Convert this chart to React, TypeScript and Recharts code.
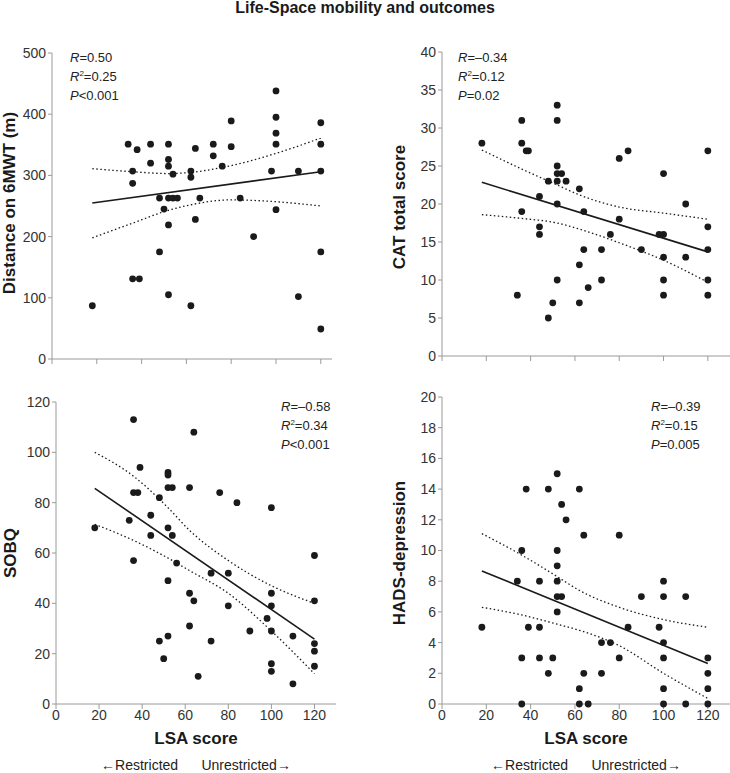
import React from "react";
import { ComposedChart, Scatter, Line, XAxis, YAxis } from "recharts";

type Pt = { x: number; y: number };

const lsaTicks = [0, 20, 40, 60, 80, 100, 120];

// Distance on 6MWT (m)
const walkPoints: Pt[] = [
  { x: 18, y: 87 }, { x: 34, y: 351 }, { x: 36, y: 307 }, { x: 36, y: 287 }, { x: 38, y: 342 },
  { x: 36, y: 131 }, { x: 39, y: 131 }, { x: 44, y: 351 }, { x: 44, y: 320 }, { x: 48, y: 263 },
  { x: 48, y: 175 }, { x: 50, y: 245 }, { x: 52, y: 351 }, { x: 52, y: 326 }, { x: 52, y: 315 },
  { x: 54, y: 302 }, { x: 52, y: 263 }, { x: 54, y: 263 }, { x: 56, y: 263 }, { x: 52, y: 219 },
  { x: 52, y: 105 }, { x: 62, y: 307 }, { x: 62, y: 297 }, { x: 64, y: 344 }, { x: 66, y: 263 },
  { x: 64, y: 228 }, { x: 62, y: 87 }, { x: 72, y: 351 }, { x: 72, y: 332 }, { x: 76, y: 315 },
  { x: 80, y: 389 }, { x: 80, y: 347 }, { x: 84, y: 263 }, { x: 90, y: 200 }, { x: 98, y: 307 },
  { x: 100, y: 438 }, { x: 100, y: 395 }, { x: 100, y: 369 }, { x: 100, y: 351 }, { x: 100, y: 244 },
  { x: 110, y: 307 }, { x: 110, y: 102 }, { x: 120, y: 386 }, { x: 120, y: 351 }, { x: 120, y: 307 },
  { x: 120, y: 175 }, { x: 120, y: 49 },
];
const walkFit: Pt[] = [{ x: 18, y: 255 }, { x: 120, y: 306 }];
const walkUpper: Pt[] = [
  { x: 18, y: 311 }, { x: 36, y: 306 }, { x: 52, y: 303 }, { x: 62, y: 305 },
  { x: 80, y: 316 }, { x: 100, y: 336 }, { x: 120, y: 361 },
];
const walkLower: Pt[] = [
  { x: 18, y: 198 }, { x: 36, y: 222 }, { x: 52, y: 243 }, { x: 62, y: 252 },
  { x: 80, y: 260 }, { x: 100, y: 257 }, { x: 120, y: 250 },
];

// CAT total score
const catPoints: Pt[] = [
  { x: 18, y: 28 }, { x: 36, y: 31 }, { x: 36, y: 28 }, { x: 38, y: 27 }, { x: 39, y: 27 },
  { x: 36, y: 19 }, { x: 34, y: 8 }, { x: 44, y: 21 }, { x: 44, y: 17 }, { x: 44, y: 16 },
  { x: 48, y: 23 }, { x: 48, y: 5 }, { x: 50, y: 7 }, { x: 52, y: 33 }, { x: 52, y: 31 },
  { x: 52, y: 25 }, { x: 52, y: 24 }, { x: 54, y: 24 }, { x: 52, y: 23 }, { x: 56, y: 23 },
  { x: 52, y: 20 }, { x: 52, y: 10 }, { x: 62, y: 22 }, { x: 62, y: 12 }, { x: 62, y: 7 },
  { x: 64, y: 19 }, { x: 64, y: 14 }, { x: 66, y: 9 }, { x: 72, y: 14 }, { x: 72, y: 10 },
  { x: 76, y: 16 }, { x: 80, y: 26 }, { x: 80, y: 18 }, { x: 84, y: 27 }, { x: 90, y: 14 },
  { x: 98, y: 16 }, { x: 100, y: 24 }, { x: 100, y: 16 }, { x: 100, y: 13 }, { x: 100, y: 10 },
  { x: 100, y: 8 }, { x: 110, y: 20 }, { x: 110, y: 13 }, { x: 120, y: 27 }, { x: 120, y: 17 },
  { x: 120, y: 14 }, { x: 120, y: 10 }, { x: 120, y: 8 },
];
const catFit: Pt[] = [{ x: 18, y: 22.85 }, { x: 120, y: 13.7 }];
const catUpper: Pt[] = [
  { x: 18, y: 27.1 }, { x: 36, y: 24.6 }, { x: 52, y: 22.5 }, { x: 62, y: 21.2 },
  { x: 80, y: 19.6 }, { x: 100, y: 18.8 }, { x: 120, y: 18.0 },
];
const catLower: Pt[] = [
  { x: 18, y: 18.6 }, { x: 36, y: 18.1 }, { x: 52, y: 17.5 }, { x: 62, y: 16.7 },
  { x: 80, y: 14.9 }, { x: 100, y: 12.6 }, { x: 120, y: 9.7 },
];

// SOBQ
const sobqPoints: Pt[] = [
  { x: 18, y: 70 }, { x: 34, y: 73 }, { x: 36, y: 113 }, { x: 36, y: 84 }, { x: 38, y: 84 },
  { x: 36, y: 57 }, { x: 39, y: 94 }, { x: 44, y: 75 }, { x: 44, y: 67 }, { x: 48, y: 82 },
  { x: 48, y: 25 }, { x: 50, y: 18 }, { x: 52, y: 92 }, { x: 52, y: 91 }, { x: 52, y: 86 },
  { x: 54, y: 86 }, { x: 52, y: 70 }, { x: 54, y: 67 }, { x: 56, y: 56 }, { x: 52, y: 49 },
  { x: 52, y: 27 }, { x: 62, y: 86 }, { x: 64, y: 108 }, { x: 62, y: 44 }, { x: 64, y: 41 },
  { x: 62, y: 31 }, { x: 66, y: 11 }, { x: 72, y: 52 }, { x: 72, y: 25 }, { x: 76, y: 84 },
  { x: 80, y: 52 }, { x: 80, y: 39 }, { x: 84, y: 80 }, { x: 90, y: 29 }, { x: 98, y: 34 },
  { x: 100, y: 78 }, { x: 100, y: 44 }, { x: 100, y: 39 }, { x: 100, y: 29 }, { x: 100, y: 16 },
  { x: 100, y: 13 }, { x: 110, y: 27 }, { x: 110, y: 8 }, { x: 120, y: 59 }, { x: 120, y: 41 },
  { x: 120, y: 24 }, { x: 120, y: 21 }, { x: 120, y: 15 },
];
const sobqFit: Pt[] = [{ x: 18, y: 85.7 }, { x: 120, y: 25.8 }];
const sobqUpper: Pt[] = [
  { x: 18, y: 100 }, { x: 36, y: 90.5 }, { x: 52, y: 78 }, { x: 62, y: 69 },
  { x: 80, y: 57 }, { x: 100, y: 47 }, { x: 120, y: 40 },
];
const sobqLower: Pt[] = [
  { x: 18, y: 71.4 }, { x: 36, y: 65 }, { x: 52, y: 58 }, { x: 62, y: 53 },
  { x: 80, y: 44 }, { x: 100, y: 29 }, { x: 120, y: 12 },
];

// HADS-depression
const hadsPoints: Pt[] = [
  { x: 18, y: 5 }, { x: 34, y: 8 }, { x: 36, y: 10 }, { x: 38, y: 14 }, { x: 39, y: 5 },
  { x: 44, y: 8 }, { x: 44, y: 5 }, { x: 48, y: 14 }, { x: 52, y: 15 }, { x: 52, y: 10 },
  { x: 52, y: 9 }, { x: 52, y: 8 }, { x: 52, y: 7 }, { x: 54, y: 7 }, { x: 52, y: 6 },
  { x: 54, y: 13 }, { x: 56, y: 12 }, { x: 62, y: 14 }, { x: 64, y: 11 }, { x: 72, y: 4 },
  { x: 76, y: 4 }, { x: 80, y: 11 }, { x: 84, y: 5 }, { x: 90, y: 7 }, { x: 98, y: 5 },
  { x: 100, y: 8 }, { x: 100, y: 7 }, { x: 100, y: 4 }, { x: 110, y: 7 },
  { x: 36, y: 3 }, { x: 44, y: 3 }, { x: 50, y: 3 }, { x: 48, y: 2 }, { x: 36, y: 0 },
  { x: 62, y: 1 }, { x: 62, y: 0 }, { x: 64, y: 2 }, { x: 66, y: 0 }, { x: 72, y: 2 },
  { x: 80, y: 3 }, { x: 100, y: 3 }, { x: 100, y: 1 }, { x: 100, y: 0 }, { x: 110, y: 0 },
  { x: 120, y: 3 }, { x: 120, y: 2 }, { x: 120, y: 1 }, { x: 120, y: 0 },
];
const hadsFit: Pt[] = [{ x: 18, y: 8.67 }, { x: 120, y: 2.64 }];
const hadsUpper: Pt[] = [
  { x: 18, y: 11.1 }, { x: 36, y: 9.7 }, { x: 52, y: 8.3 }, { x: 62, y: 7.4 },
  { x: 80, y: 6.3 }, { x: 100, y: 5.5 }, { x: 120, y: 5.0 },
];
const hadsLower: Pt[] = [
  { x: 18, y: 6.3 }, { x: 36, y: 5.8 }, { x: 52, y: 5.2 }, { x: 62, y: 4.8 },
  { x: 80, y: 3.8 }, { x: 100, y: 2.0 }, { x: 120, y: 0.36 },
];

const FONT = '"Liberation Sans", Arial, sans-serif';
const AXIS = "#9a9a9a";
const INK = "#1a1a1a";
const Y_W = 45;
const TOP_M = 10;

const Dot = (p: any) => <circle cx={p.cx} cy={p.cy} r={3.4} fill={INK} />;

function Panel(props: {
  left: number;
  top: number;
  plotW: number;
  plotH: number;
  xMax: number;
  yTicks: number[];
  showX: boolean;
  points: Pt[];
  fit: Pt[];
  upper: Pt[];
  lower: Pt[];
}) {
  const xH = props.showX ? 26 : 8;
  const yMax = props.yTicks[props.yTicks.length - 1];
  return (
    <div style={{ position: "absolute", left: props.left - Y_W, top: props.top - TOP_M }}>
      <ComposedChart
        width={Y_W + props.plotW + 2}
        height={TOP_M + props.plotH + xH}
        margin={{ top: TOP_M, right: 2, bottom: 0, left: 0 }}
      >
        <XAxis
          type="number"
          dataKey="x"
          domain={[0, props.xMax]}
          ticks={lsaTicks}
          height={xH}
          stroke={AXIS}
          tickSize={5}
          tickMargin={1}
          tickFormatter={(v) => (props.showX ? String(v) : "")}
          tick={{ fill: "#333", fontSize: 14, fontFamily: FONT }}
          interval={0}
        />
        <YAxis
          type="number"
          dataKey="y"
          domain={[0, yMax]}
          ticks={props.yTicks}
          width={Y_W}
          stroke={AXIS}
          tickSize={4}
          tickMargin={2}
          tick={{ fill: "#333", fontSize: 14, fontFamily: FONT }}
          interval={0}
        />
        <Line
          data={props.upper}
          dataKey="y"
          type="monotone"
          stroke={INK}
          strokeWidth={1.3}
          strokeDasharray="1.5 2.5"
          dot={false}
          activeDot={false}
          isAnimationActive={false}
        />
        <Line
          data={props.lower}
          dataKey="y"
          type="monotone"
          stroke={INK}
          strokeWidth={1.3}
          strokeDasharray="1.5 2.5"
          dot={false}
          activeDot={false}
          isAnimationActive={false}
        />
        <Line
          data={props.fit}
          dataKey="y"
          type="linear"
          stroke={INK}
          strokeWidth={1.6}
          dot={false}
          activeDot={false}
          isAnimationActive={false}
        />
        <Scatter data={props.points} shape={Dot} isAnimationActive={false} />
      </ComposedChart>
    </div>
  );
}

function Stats(props: { left: number; top: number; r: string; r2: string; p: string }) {
  return (
    <div
      style={{
        position: "absolute",
        left: props.left,
        top: props.top,
        fontFamily: FONT,
        fontSize: 13,
        lineHeight: "19px",
        color: "#222",
        whiteSpace: "nowrap",
      }}
    >
      <div><i>R</i>={props.r}</div>
      <div><i>R</i><sup style={{ fontSize: 8, verticalAlign: 5, lineHeight: 0 }}>2</sup>={props.r2}</div>
      <div><i>P</i>{props.p}</div>
    </div>
  );
}

function YLabel(props: { cx: number; cy: number; text: string }) {
  return (
    <div
      style={{
        position: "absolute",
        left: props.cx - 150,
        top: props.cy - 11,
        width: 300,
        height: 22,
        lineHeight: "22px",
        textAlign: "center",
        transform: "rotate(-90deg)",
        fontFamily: FONT,
        fontWeight: "bold",
        fontSize: 17,
        color: INK,
      }}
    >
      {props.text}
    </div>
  );
}

function XFooter(props: { cx: number }) {
  return (
    <>
      <div
        style={{
          position: "absolute",
          left: props.cx - 100,
          top: 729,
          width: 200,
          textAlign: "center",
          fontFamily: FONT,
          fontWeight: "bold",
          fontSize: 17,
          color: INK,
        }}
      >
        LSA score
      </div>
      <div
        style={{
          position: "absolute",
          left: props.cx - 150,
          top: 757,
          width: 300,
          textAlign: "center",
          fontFamily: FONT,
          fontSize: 14,
          color: "#222",
          whiteSpace: "pre",
        }}
      >
        {"←Restricted      Unrestricted→"}
      </div>
    </>
  );
}

export default function App() {
  return (
    <div
      style={{
        position: "absolute",
        left: 0,
        top: 0,
        width: 730,
        height: 773,
        background: "#fff",
        overflow: "hidden",
      }}
    >
      <div
        style={{
          position: "absolute",
          left: 0,
          top: -1,
          width: 730,
          textAlign: "center",
          fontFamily: FONT,
          fontWeight: "bold",
          fontSize: 16,
          color: INK,
        }}
      >
        Life-Space mobility and outcomes
      </div>

      <Panel left={52} top={53} plotW={280} plotH={306} xMax={125}
        yTicks={[0, 100, 200, 300, 400, 500]} showX={false}
        points={walkPoints} fit={walkFit} upper={walkUpper} lower={walkLower} />
      <Panel left={442} top={52} plotW={288} plotH={304} xMax={130}
        yTicks={[0, 5, 10, 15, 20, 25, 30, 35, 40]} showX={false}
        points={catPoints} fit={catFit} upper={catUpper} lower={catLower} />
      <Panel left={56} top={402} plotW={280} plotH={302} xMax={130}
        yTicks={[0, 20, 40, 60, 80, 100, 120]} showX={true}
        points={sobqPoints} fit={sobqFit} upper={sobqUpper} lower={sobqLower} />
      <Panel left={442} top={397} plotW={288} plotH={307} xMax={130}
        yTicks={[0, 2, 4, 6, 8, 10, 12, 14, 16, 18, 20]} showX={true}
        points={hadsPoints} fit={hadsFit} upper={hadsUpper} lower={hadsLower} />

      <Stats left={70} top={48} r="0.50" r2="0.25" p="<0.001" />
      <Stats left={458} top={48} r="–0.34" r2="0.12" p="=0.02" />
      <Stats left={281} top={397} r="–0.58" r2="0.34" p="<0.001" />
      <Stats left={651} top={397} r="–0.39" r2="0.15" p="=0.005" />

      <YLabel cx={10} cy={203} text="Distance on 6MWT (m)" />
      <YLabel cx={400} cy={207} text="CAT total score" />
      <YLabel cx={11} cy={553} text="SOBQ" />
      <YLabel cx={400} cy={553} text="HADS-depression" />

      <XFooter cx={196} />
      <XFooter cx={586} />
    </div>
  );
}
